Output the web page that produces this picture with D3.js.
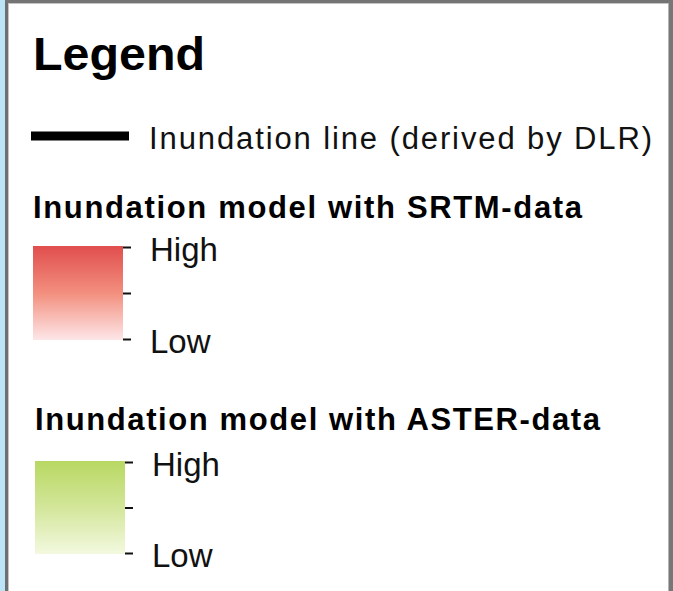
<!DOCTYPE html>
<html>
<head>
<meta charset="utf-8">
<script src="https://cdn.jsdelivr.net/npm/d3@7"></script>
<style>
    body { margin: 0; background: #fff; }
    svg { display: block; font-family: "Liberation Sans", Arial, sans-serif; }
</style>
</head>
<body>
<div id="legend"></div>
<script>
const width = 673;
const height = 591;

// legend content
const legendTitle = "Legend";
const lineLabel = "Inundation line (derived by DLR)";
const rampTitles = ["Inundation model with SRTM-data", "Inundation model with ASTER-data"];
const rampColors = [
    ["#e04e4e", "#f38f7e", "#fde6e8"],
    ["#b8d862", "#d3e69a", "#f3f9e0"]
];
const rampTicks = [1, 0.5, 0];
const rampTickLabels = ["High", "", "Low"];

// layout
const ramps = [
    { titleX: 33, titleY: 218, titleLen: 549, x: 33, y: 246, w: 90, h: 94 },
    { titleX: 35, titleY: 430, titleLen: 565, x: 35, y: 461, w: 90, h: 93 }
];

const svg = d3.select("#legend")
    .append("svg")
    .attr("width", width)
    .attr("height", height);

const defs = svg.append("defs");

// frame
svg.append("rect").attr("x", 0).attr("y", 0).attr("width", 6).attr("height", height).attr("fill", "#bde3f8");
svg.append("rect").attr("x", 5).attr("y", 0).attr("width", 3).attr("height", height).attr("fill", "#6f6f6f");
svg.append("rect").attr("x", 8).attr("y", 3).attr("width", 1).attr("height", height).attr("fill", "#c4c4c4");
svg.append("rect").attr("x", 5).attr("y", 0).attr("width", width).attr("height", 3).attr("fill", "#747474");
svg.append("rect").attr("x", 8).attr("y", 3).attr("width", 660).attr("height", 1).attr("fill", "#c4c4c4");
svg.append("rect").attr("x", 668).attr("y", 3).attr("width", 1).attr("height", height).attr("fill", "#b4b4b4");
svg.append("rect").attr("x", 669).attr("y", 0).attr("width", 4).attr("height", height).attr("fill", "#777");

svg.append("text")
    .attr("x", 33)
    .attr("y", 70)
    .attr("font-size", 47)
    .attr("font-weight", "bold")
    .attr("textLength", 172)
    .attr("lengthAdjust", "spacingAndGlyphs")
    .text(legendTitle);

// inundation line
svg.append("line")
    .attr("x1", 31).attr("x2", 129)
    .attr("y1", 136).attr("y2", 136)
    .attr("stroke", "#000")
    .attr("stroke-width", 9);

svg.append("text")
    .attr("x", 149)
    .attr("y", 149)
    .attr("font-size", 31)
    .attr("fill", "#111")
    .attr("textLength", 503)
    .attr("lengthAdjust", "spacing")
    .text(lineLabel);

// colour ramps
ramps.forEach((r, i) => {
    const gradId = `ramp-${i}`;
    const grad = defs.append("linearGradient")
        .attr("id", gradId)
        .attr("x1", 0).attr("y1", 0)
        .attr("x2", 0).attr("y2", 1);
    grad.selectAll("stop")
        .data(rampColors[i])
        .join("stop")
        .attr("offset", (d, j) => j / (rampColors[i].length - 1))
        .attr("stop-color", d => d);

    svg.append("text")
        .attr("x", r.titleX)
        .attr("y", r.titleY)
        .attr("font-size", 31)
        .attr("font-weight", "bold")
        .attr("textLength", r.titleLen)
        .attr("lengthAdjust", "spacing")
        .text(rampTitles[i]);

    svg.append("rect")
        .attr("x", r.x).attr("y", r.y)
        .attr("width", r.w).attr("height", r.h)
        .attr("fill", `url(#${gradId})`);

    const yScale = d3.scaleLinear().domain([0, 1]).range([r.y + r.h - 1, r.y + 1]);
    const axis = svg.append("g")
        .attr("transform", `translate(${r.x + r.w}, 0)`)
        .call(d3.axisRight(yScale)
            .tickValues(rampTicks)
            .tickSize(8)
            .tickPadding(19)
            .tickFormat((d, j) => rampTickLabels[j]));
    axis.select(".domain").remove();
    axis.selectAll(".tick line").attr("stroke", "#111").attr("stroke-width", 2);
    axis.selectAll(".tick text")
        .attr("font-family", "'Liberation Sans', Arial, sans-serif")
        .attr("font-size", 33)
        .attr("fill", "#111")
        .attr("dy", "0.4em");
});
</script>
</body>
</html>
